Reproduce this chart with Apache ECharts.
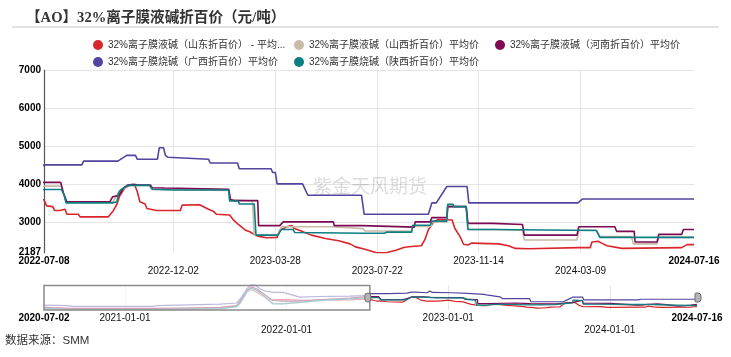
<!DOCTYPE html>
<html><head><meta charset="utf-8">
<script src="https://cdn.jsdelivr.net/npm/echarts@6/dist/echarts.min.js"></script>
<style>html,body{margin:0;padding:0;background:#fff}#c{width:731px;height:357px}</style>
</head><body><div id="c"></div>
<script>
// ---------- DATA ----------
const seriesNames = [
  '32%离子膜液碱（山东折百价） - 平均价',
  '32%离子膜液碱（山西折百价）平均价',
  '32%离子膜液碱（河南折百价）平均价',
  '32%离子膜烧碱（广西折百价）平均价',
  '32%离子膜烧碱（陕西折百价）平均价'
];
const legendShown = {'32%离子膜液碱（山东折百价） - 平均价': '32%离子膜液碱（山东折百价） - 平均...'};

const shandong = [
 ['2020-07-02',2350],['2020-08-22',2100],['2020-09-06',2030],['2021-03-06',2030],['2021-05-15',2100],
 ['2021-08-04',2300],['2021-09-10',2600],['2021-09-18',3200],['2021-10-03',4700],['2021-10-12',5200],
 ['2021-10-20',5000],['2021-11-02',4400],['2021-11-20',3600],['2021-12-02',3500],['2021-12-24',3530],
 ['2022-01-31',3450],['2022-03-10',3400],['2022-05-24',3500],['2022-06-23',3600],
 ['2022-07-08',3580],['2022-07-11',3420],['2022-07-18',3400],['2022-07-20',3300],['2022-07-26',3300],
 ['2022-07-27',3330],['2022-08-01',3330],['2022-08-03',3200],['2022-08-16',3200],['2022-08-18',3130],
 ['2022-09-19',3130],['2022-09-25',3300],['2022-09-29',3470],['2022-10-02',3680],['2022-10-08',3900],
 ['2022-10-16',3990],['2022-10-19',3980],['2022-10-22',3800],['2022-10-25',3530],['2022-10-31',3470],
 ['2022-11-02',3350],['2022-11-13',3300],['2022-12-10',3300],['2022-12-12',3440],['2023-01-01',3450],
 ['2023-01-03',3415],['2023-01-11',3330],['2023-01-17',3270],['2023-01-20',3200],['2023-02-04',3180],
 ['2023-02-08',3060],['2023-02-14',2930],['2023-02-22',2780],['2023-02-27',2740],['2023-03-05',2650],
 ['2023-03-11',2610],['2023-03-18',2580],['2023-03-30',2590],['2023-04-02',2780],['2023-04-10',2870],
 ['2023-04-16',2900],['2023-04-18',2830],['2023-04-25',2770],['2023-05-08',2650],['2023-05-24',2560],
 ['2023-06-08',2500],['2023-06-21',2420],['2023-06-27',2340],['2023-07-08',2280],['2023-07-21',2187.5],
 ['2023-08-02',2190],['2023-08-12',2250],['2023-08-22',2330],['2023-08-30',2350],['2023-09-10',2370],
 ['2023-09-14',2530],['2023-09-18',2790],['2023-09-24',3000],['2023-09-29',3060],['2023-10-15',3050],
 ['2023-10-18',2830],['2023-10-24',2610],['2023-10-28',2410],['2023-11-02',2390],['2023-11-06',2440],
 ['2023-12-07',2420],['2023-12-18',2370],['2023-12-26',2300],['2024-01-10',2290],['2024-03-07',2320],
 ['2024-03-20',2320],['2024-03-22',2470],['2024-03-29',2490],['2024-04-02',2440],['2024-04-08',2370],
 ['2024-04-25',2300],['2024-07-02',2320],['2024-07-08',2400],['2024-07-16',2400]
];
const shanxi = [
 ['2020-07-02',1950],['2020-09-06',1870],['2021-03-06',1870],['2021-08-04',2050],['2021-09-10',2350],
 ['2021-09-18',2900],['2021-10-03',4600],['2021-10-14',5300],['2021-10-25',5000],['2021-11-10',4100],
 ['2021-11-25',3300],['2021-12-02',3000],['2021-12-24',2950],['2022-01-31',3050],['2022-03-10',3300],
 ['2022-05-24',3700],['2022-06-23',3900],
 ['2022-07-08',3940],['2022-07-28',3940],['2022-07-31',3700],['2022-08-02',3520],['2022-09-24',3520],
 ['2022-09-30',3750],['2022-10-11',3960],['2022-11-05',3960],['2022-11-08',3850],['2023-02-03',3830],
 ['2023-02-05',3580],['2023-03-02',3550],['2023-03-04',2650],['2023-03-31',2650],['2023-04-04',2870],
 ['2023-06-02',2870],['2023-06-04',2820],['2023-07-06',2820],['2023-07-08',2760],['2023-08-30',2760],
 ['2023-08-31',2880],['2023-09-21',2880],['2023-09-22',3000],['2023-10-09',3000],['2023-10-10',3400],
 ['2023-10-31',3400],['2023-11-02',2800],['2023-12-02',2800],['2023-12-03',2780],['2024-01-03',2780],
 ['2024-01-05',2520],['2024-03-05',2520],['2024-03-07',2780],['2024-03-27',2780],['2024-03-31',2610],
 ['2024-05-06',2610],['2024-05-08',2420],['2024-06-04',2420],['2024-06-06',2590],['2024-07-16',2590]
];
const henan = [
 ['2020-07-02',2250],['2020-09-06',2130],['2021-03-06',2130],['2021-08-04',2250],['2021-09-10',2550],
 ['2021-09-18',3300],['2021-10-03',5000],['2021-10-14',5600],['2021-10-25',5300],['2021-11-10',4500],
 ['2021-11-25',3700],['2021-12-02',3400],['2021-12-24',3300],['2022-01-31',3300],['2022-03-10',3500],
 ['2022-05-24',3800],['2022-06-23',4000],
 ['2022-07-08',4040],['2022-07-27',4040],['2022-07-30',3760],['2022-08-03',3530],['2022-09-21',3530],
 ['2022-09-24',3660],['2022-10-01',3690],['2022-10-06',3880],['2022-10-11',3970],['2022-10-20',3980],
 ['2022-10-21',4010],['2022-10-23',3970],['2022-11-06',3970],['2022-11-08',3900],['2022-11-22',3890],
 ['2022-11-24',3860],['2023-02-03',3860],['2023-02-05',3590],['2023-02-09',3560],['2023-03-08',3560],
 ['2023-03-09',2900],['2023-04-02',2900],['2023-04-06',3000],['2023-06-02',3000],['2023-06-03',2900],
 ['2023-07-05',2900],['2023-07-06',2860],['2023-09-02',2860],['2023-09-03',3000],['2023-09-20',3000],
 ['2023-09-22',3110],['2023-10-09',3110],['2023-10-10',3400],['2023-10-31',3400],['2023-11-02',2960],
 ['2023-11-30',2960],['2023-12-02',2930],['2024-01-03',2930],['2024-01-05',2650],['2024-03-05',2650],
 ['2024-03-07',2870],['2024-04-17',2870],['2024-04-19',2750],['2024-05-09',2750],['2024-05-10',2470],
 ['2024-06-04',2470],['2024-06-06',2670],['2024-07-02',2670],['2024-07-04',2800],['2024-07-16',2800]
];
const guangxi = [
 ['2020-07-02',2670],['2020-08-22',2560],['2020-09-06',2450],['2021-03-06',2450],['2021-03-13',2560],
 ['2021-08-04',2830],['2021-09-10',3000],['2021-09-18',3640],['2021-10-03',5260],['2021-10-12',5900],
 ['2021-10-22',5900],['2021-11-02',5260],['2021-11-15',4900],['2021-12-02',4720],['2021-12-24',4720],
 ['2022-01-31',3950],['2022-03-10',4050],['2022-05-24',4100],['2022-06-23',4200],
 ['2022-07-08',4500],['2022-08-20',4500],['2022-08-22',4600],['2022-09-30',4600],['2022-10-10',4750],
 ['2022-10-20',4750],['2022-10-22',4650],['2022-11-14',4650],['2022-11-16',4950],['2022-11-21',4950],
 ['2022-11-23',4750],['2022-11-26',4700],['2022-11-28',4650],['2023-01-11',4650],['2023-01-13',4550],
 ['2023-02-13',4550],['2023-02-15',4400],['2023-03-23',4400],['2023-03-25',4300],['2023-03-28',4300],
 ['2023-03-30',4000],['2023-04-28',4000],['2023-05-04',3700],['2023-07-04',3700],['2023-07-07',3200],
 ['2023-09-18',3200],['2023-09-22',3500],['2023-09-27',3500],['2023-10-09',3930],['2023-11-01',3930],
 ['2023-11-03',3500],['2024-03-06',3500],['2024-03-11',3600],['2024-07-16',3600]
];
const shaanxi = [
 ['2020-07-02',2130],['2020-09-06',1950],['2021-03-06',1950],['2021-08-04',2100],['2021-09-10',2400],
 ['2021-09-18',3000],['2021-10-03',4800],['2021-10-14',5400],['2021-10-25',5100],['2021-11-10',4200],
 ['2021-11-25',3200],['2021-12-02',2850],['2021-12-24',2850],['2022-01-31',3100],['2022-03-10',3370],
 ['2022-05-24',3650],['2022-06-23',3800],
 ['2022-07-08',3850],['2022-07-28',3850],['2022-07-31',3700],['2022-08-02',3500],['2022-09-24',3500],
 ['2022-09-26',3530],['2022-09-29',3530],['2022-10-01',3780],['2022-10-03',3840],['2022-10-11',3960],
 ['2022-11-05',3960],['2022-11-08',3860],['2022-12-05',3840],['2023-02-03',3840],['2023-02-04',3550],
 ['2023-02-14',3550],['2023-02-15',3470],['2023-03-04',3470],['2023-03-06',2650],['2023-03-31',2650],
 ['2023-04-04',2800],['2023-04-17',2800],['2023-04-19',2720],['2023-07-08',2700],['2023-07-30',2700],
 ['2023-08-02',2730],['2023-08-30',2730],['2023-08-31',2910],['2023-09-20',2910],['2023-09-22',3020],
 ['2023-10-09',3020],['2023-10-10',3460],['2023-10-16',3460],['2023-10-17',3400],['2023-10-31',3400],
 ['2023-11-02',2800],['2023-12-02',2800],['2023-12-03',2770],['2024-03-27',2770],['2024-03-31',2590],
 ['2024-07-16',2590]
];

const xLabelDates = ['2022-07-08','2022-12-02','2023-03-28','2023-07-22','2023-11-14','2024-03-09','2024-07-16'];
const sliderLabelDates = ['2020-07-02','2021-01-01','2022-01-01','2023-01-01','2024-01-01','2024-07-16'];
const sliderGridDates = ['2021-01-01','2022-01-01','2023-01-01','2024-01-01'];
const yLabelValues = [2187, 3000, 4000, 5000, 6000, 7000];
const yGridValues = [3000, 4000, 5000, 6000, 7000];
const viewStart = '2022-07-08', viewEnd = '2024-07-16';
const fullStart = '2020-07-02', fullEnd = '2024-07-16';

// ---------- STYLE ----------
const colors = ['#d9262c', '#c8baa8', '#7d0a52', '#54449f', '#0b7f84'];
const FONT = "'Liberation Sans', 'Noto Sans CJK SC', sans-serif";

function t(s){ const p = s.split('-').map(Number); return Date.UTC(p[0], p[1]-1, p[2]); }
function conv(arr){ return arr.map(d => [t(d[0]), d[1]]); }
const allData = [shandong, shanxi, henan, guangxi, shaanxi];

function staggerLow(dates, lowIdx){
  const m = {};
  dates.forEach((d,i)=>{ m[t(d)] = i; });
  return function(v){
    const i = m[Math.round(v)];
    if (i === undefined) return '';
    const s = dates[i];
    if (i === 0 || i === dates.length-1) return '{b|' + s + '}';
    return lowIdx.indexOf(i) >= 0 ? '{l|' + s + '}' : '{n|' + s + '}';
  };
}

const chart = echarts.init(document.getElementById('c'), null, {renderer: 'canvas'});

const mainSeries = allData.map((d,i)=>({
  name: seriesNames[i], type: 'line', xAxisIndex: 0, yAxisIndex: 0,
  data: conv(d), showSymbol: false, symbol: 'none', clip: true,
  lineStyle: {width: 1.6, color: colors[i]}, itemStyle: {color: colors[i]},
  z: 3 + i
}));
const miniSeries = allData.map((d,i)=>({
  name: seriesNames[i], type: 'line', xAxisIndex: 1, yAxisIndex: 1,
  data: conv(d), showSymbol: false, symbol: 'none', silent: true,
  lineStyle: {width: 1.2, color: colors[i]}, itemStyle: {color: colors[i]},
  z: 3 + i
}));

const richLabel = {
  b: {fontWeight: 'bold', fontSize: 10, color: '#000', fontFamily: FONT},
  n: {fontSize: 10, color: '#111', fontFamily: FONT},
  l: {fontSize: 10, color: '#111', fontFamily: FONT, padding: [10, 0, 0, 0]}
};
const richLabel2 = {
  b: {fontWeight: 'bold', fontSize: 10, color: '#000', fontFamily: FONT},
  n: {fontSize: 10, color: '#111', fontFamily: FONT},
  l: {fontSize: 10, color: '#111', fontFamily: FONT, padding: [12, 0, 0, 0]}
};

const baseGraphic = [
  {type: 'line', shape: {x1: 12, y1: 27, x2: 719, y2: 27}, style: {stroke: '#e2e2e2', lineWidth: 2}, silent: true},
  {type: 'text', x: 370, y: 188, z: 1, silent: true,
   style: {text: '紫金天风期货', fontSize: 19, fill: 'rgba(0,0,0,0.14)', fontFamily: FONT, textAlign: 'center', textVerticalAlign: 'middle'}},
  {type: 'text', x: 5, y: 341, silent: true,
   style: {text: '数据来源：SMM', fontSize: 11.5, fill: '#333', fontFamily: FONT, textVerticalAlign: 'middle'}}
];

chart.setOption({
  animation: false,
  backgroundColor: '#fff',
  color: colors,
  title: {
    text: '【AO】32%离子膜液碱折百价（元/吨）',
    left: 21, top: 6,
    textStyle: {fontSize: 14.6, fontWeight: 'bold', color: '#333', fontFamily: "'Liberation Serif', 'Noto Sans CJK SC', serif"}
  },
  legend: {
    data: seriesNames, left: 88, top: 34, width: 625,
    itemWidth: 10, itemHeight: 10, itemGap: 5, icon: 'circle',
    formatter: n => legendShown[n] || n,
    textStyle: {fontSize: 10, color: '#333', fontFamily: FONT, width: 181, lineHeight: 12, overflow: 'truncate'}
  },
  grid: [
    {left: 44, right: 37, top: 70, height: 182.7, containLabel: false},
    {left: 44, right: 34, top: 285, height: 25, containLabel: false}
  ],
  xAxis: [
    {
      type: 'value', gridIndex: 0, min: t(viewStart), max: t(viewEnd),
      axisLine: {show: false},
      axisTick: {show: false, customValues: xLabelDates.slice(1, -1).map(t)},
      axisLabel: {customValues: xLabelDates.map(t), formatter: staggerLow(xLabelDates, [1,3,5]), rich: richLabel, margin: 4, hideOverlap: false},
      splitLine: {show: true, lineStyle: {color: '#e4e4e4', width: 1}}
    },
    {
      type: 'value', gridIndex: 1, min: t(fullStart), max: t(fullEnd),
      axisLine: {show: false},
      axisTick: {show: false, customValues: sliderGridDates.map(t)},
      axisLabel: {customValues: sliderLabelDates.map(t), formatter: staggerLow(sliderLabelDates, [2,4]), rich: richLabel2, margin: 3, hideOverlap: false},
      splitLine: {show: true, lineStyle: {color: '#e4e4e4', width: 1}}
    }
  ],
  yAxis: [
    {
      type: 'value', gridIndex: 0, min: 2187, max: 7000,
      axisLine: {show: true, lineStyle: {color: '#555', width: 1.2}},
      axisTick: {show: false, customValues: yGridValues},
      axisLabel: {customValues: yLabelValues, formatter: v => String(Math.round(v)), fontSize: 10, fontWeight: 'bold', color: '#000', fontFamily: FONT, margin: 3},
      splitLine: {show: true, lineStyle: {color: '#e4e4e4', width: 1}}
    },
    {
      type: 'value', gridIndex: 1, min: 'dataMin', max: 'dataMax', show: false,
      splitLine: {show: false}
    }
  ],
  graphic: baseGraphic,
  series: mainSeries.concat(miniSeries)
});

// overview strip: fade the unselected part, draw the window handles
const x0 = chart.convertToPixel({xAxisIndex: 1}, t(fullStart));
const x1 = chart.convertToPixel({xAxisIndex: 1}, t(viewStart));
const x2 = chart.convertToPixel({xAxisIndex: 1}, t(viewEnd));
chart.setOption({graphic: baseGraphic.concat([
  {type: 'rect', z: 10, silent: true, shape: {x: x0, y: 285.5, width: x1 - x0, height: 24.5},
   style: {fill: 'rgba(255,255,255,0.62)', stroke: '#8a8a8a', lineWidth: 1.5}},
  {type: 'rect', z: 12, silent: true, shape: {x: x1 - 5, y: 293, width: 6, height: 9, r: 3},
   style: {fill: '#b4b4b4', stroke: '#6e6e6e', lineWidth: 1}},
  {type: 'rect', z: 12, silent: true, shape: {x: x2 - 2, y: 293, width: 6, height: 9, r: [1, 3, 3, 1]},
   style: {fill: '#b4b4b4', stroke: '#6e6e6e', lineWidth: 1}}
])});
</script></body></html>
